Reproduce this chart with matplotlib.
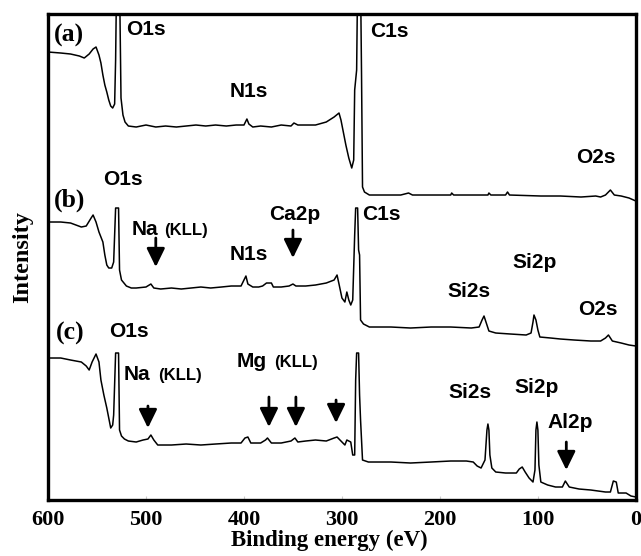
import matplotlib
matplotlib.use("Agg")
import matplotlib.pyplot as plt

# Spectrum (a)
energy_a = [600, 587, 577, 568, 563, 558, 554, 551, 548, 546, 544, 542, 540, 538,
            536, 534, 532, 531, 530, 527, 525.5, 523.5, 521.4, 518, 510, 500, 490,
            480, 469, 459, 449, 439, 429, 418, 408, 400, 397, 395, 391, 383, 372,
            362, 352, 349, 345, 337, 327, 316, 308, 303, 301, 299, 296, 293, 290,
            288, 287, 285, 284, 281, 280, 279, 277, 272, 240, 232, 228, 189, 188,
            186, 151, 150, 148, 133, 131, 129, 97, 77, 56, 41, 36, 31, 26, 22, 15,
            7, 0]
intensity_a = [448, 447, 446, 444, 442, 446, 451, 453, 445, 437, 425, 415, 408, 400,
               394, 392, 396, 440, 520, 520, 402, 385, 378, 374, 373, 375, 373,
               374, 373, 374, 375, 374, 375, 374, 375, 375, 381, 376, 373, 374, 373,
               375, 374, 377, 375, 375, 375, 378, 383, 387, 380, 370, 355, 342, 332,
               340, 410, 430, 520, 520, 425, 313, 308, 305, 305, 307, 305, 305, 307,
               305, 305, 307, 305, 305, 308, 305, 304, 304, 303, 304, 303, 305, 310,
               305, 304, 302, 299]

# Spectrum (b)
energy_b = [600, 587, 577, 566, 561, 556, 554, 551, 548, 544, 542, 540, 538, 535,
            533, 531, 528, 527, 525, 520, 515, 510, 500, 495, 492, 485, 474, 464,
            454, 444, 434, 423, 413, 403, 400, 398, 396, 391, 385, 381, 377, 372,
            370, 362, 354, 350, 347, 337, 327, 316, 308, 305, 303, 300, 297, 295,
            293, 291, 289, 287, 286, 284, 283, 282, 281, 278, 272, 250, 230, 209,
            189, 168, 160, 157, 155, 153, 150, 143, 128, 112, 107, 105, 104, 102,
            100, 98, 87, 77, 63, 46, 36, 31, 28, 24, 15, 7, 0]
intensity_b = [278, 278, 277, 273, 274, 282, 285, 278, 268, 258, 245, 235, 232, 232,
               238, 292, 292, 230, 220, 214, 212, 212, 213, 216, 212, 211, 212, 211,
               212, 213, 212, 213, 214, 214, 220, 224, 216, 213, 213, 214, 217, 217,
               213, 213, 214, 216, 214, 214, 215, 217, 220, 225, 216, 202, 198, 208,
               200, 195, 200, 265, 292, 292, 250, 245, 180, 176, 173, 173, 172, 173,
               173, 172, 173, 180, 184, 178, 169, 167, 166, 165, 167, 178, 185, 180,
               170, 163, 162, 161, 160, 159, 159, 162, 165, 159, 157, 155, 154]

# Spectrum (c)
energy_c = [600, 587, 577, 566, 561, 558, 555, 551, 548, 546, 543, 540, 538, 536,
            534, 533, 531, 528, 527, 525, 522, 518, 510, 503, 498, 495, 492, 488,
            474, 459, 444, 429, 413, 403, 399, 396, 393, 383, 378, 376, 372, 362,
            352, 348, 345, 337, 327, 316, 308, 305, 300, 297, 295, 291, 289, 287,
            286, 285, 283, 282, 281, 279, 273, 250, 230, 209, 189, 173, 166, 162,
            158, 154, 152, 151, 150, 149, 147, 143, 133, 122, 119, 116, 113, 109,
            105, 103, 102, 101, 100, 99, 97, 90, 82, 75, 72, 68, 58, 46, 31, 26,
            23, 20, 18, 10, 5, 0]
intensity_c = [142, 142, 140, 138, 134, 130, 138, 146, 138, 120, 105, 92, 82, 72,
               75, 85, 147, 147, 70, 64, 61, 59, 58, 60, 61, 65, 60, 55, 55, 56,
               55, 56, 57, 57, 62, 63, 57, 57, 60, 62, 57, 57, 59, 62, 58, 59, 60,
               59, 62, 63, 58, 55, 60, 58, 45, 45, 120, 147, 147, 105, 80, 40, 38,
               38, 37, 38, 39, 39, 38, 34, 32, 40, 70, 76, 70, 45, 32, 28, 27, 27,
               31, 33, 28, 22, 18, 30, 70, 78, 70, 35, 18, 15, 13, 13, 19, 13, 11,
               10, 8, 8, 19, 18, 7, 7, 4, 3]

# labels: (text, energy, intensity, size)
panel_labels = [("(a)", 594, 458), ("(b)", 594, 293), ("(c)", 592, 160)]
peak_labels = [
    ("O1s", 520, 465, 15), ("N1s", 415, 403, 15), ("C1s", 271, 463, 15),
    ("O2s", 61, 337, 15),
    ("O1s", 544, 315, 15), ("Na", 515, 265, 15), ("(KLL)", 481.5, 265, 12),
    ("N1s", 415, 240, 15), ("Ca2p", 374, 280, 15), ("C1s", 279, 280, 15),
    ("Si2s", 192, 203, 15), ("Si2p", 126, 232, 15), ("O2s", 59, 185, 15),
    ("O1s", 538, 163, 15), ("Na", 523, 120, 15), ("(KLL)", 488, 120, 12),
    ("Mg", 408, 133, 15), ("(KLL)", 369, 133, 12),
    ("Si2s", 191, 102, 15), ("Si2p", 124, 107, 15), ("Al2p", 90, 72, 15),
]
# arrows: (energy, start intensity, tip intensity)
arrows = [(490, 262, 233), (350, 270, 242), (498, 94, 72), (374.5, 103, 73),
          (347, 103, 73), (306, 100, 77), (71, 58, 30)]

fig = plt.figure(figsize=(6.41, 5.56), dpi=100)
ax = fig.add_axes([0.0749, 0.1007, 0.9171, 0.8741])

for e, i in [(energy_a, intensity_a), (energy_b, intensity_b), (energy_c, intensity_c)]:
    ax.plot(e, i, color="black", lw=1.1)

for txt, e, i in panel_labels:
    ax.text(e, i, txt, family="Liberation Serif", weight="bold", fontsize=18.5,
            ha="left", va="baseline")
for txt, e, i, s in peak_labels:
    ax.text(e, i, txt, family="Liberation Sans", weight="bold", fontsize=s,
            ha="left", va="baseline")
for e, i0, i1 in arrows:
    ax.annotate("", xy=(e, i1), xytext=(e, i0),
                arrowprops=dict(arrowstyle="-|>,head_length=0.45,head_width=0.22",
                                mutation_scale=25, lw=2, color="black",
                                shrinkA=0, shrinkB=0))

ax.set_xlim(600, 0)
ax.set_ylim(0, 486)
ax.set_xticks([600, 500, 400, 300, 200, 100, 0])
ax.set_xticklabels(["600", "500", "400", "300", "200", "100", "0"],
                   family="Liberation Serif", weight="bold", fontsize=16)
ax.tick_params(axis="x", direction="in", length=3, width=0.8, color="#cccccc", pad=7)
ax.set_yticks([])
for sp in ax.spines.values():
    sp.set_linewidth(2.4)

ax.set_xlabel("Binding energy (eV)", family="Liberation Serif", weight="bold",
              fontsize=16.5)
ax.xaxis.set_label_coords(0.478, -0.062)
ax.set_ylabel("Intensity", family="Liberation Serif", weight="bold", fontsize=17.5)
ax.yaxis.set_label_coords(-0.026, 0.5)

fig.savefig("out.png", dpi=100)
